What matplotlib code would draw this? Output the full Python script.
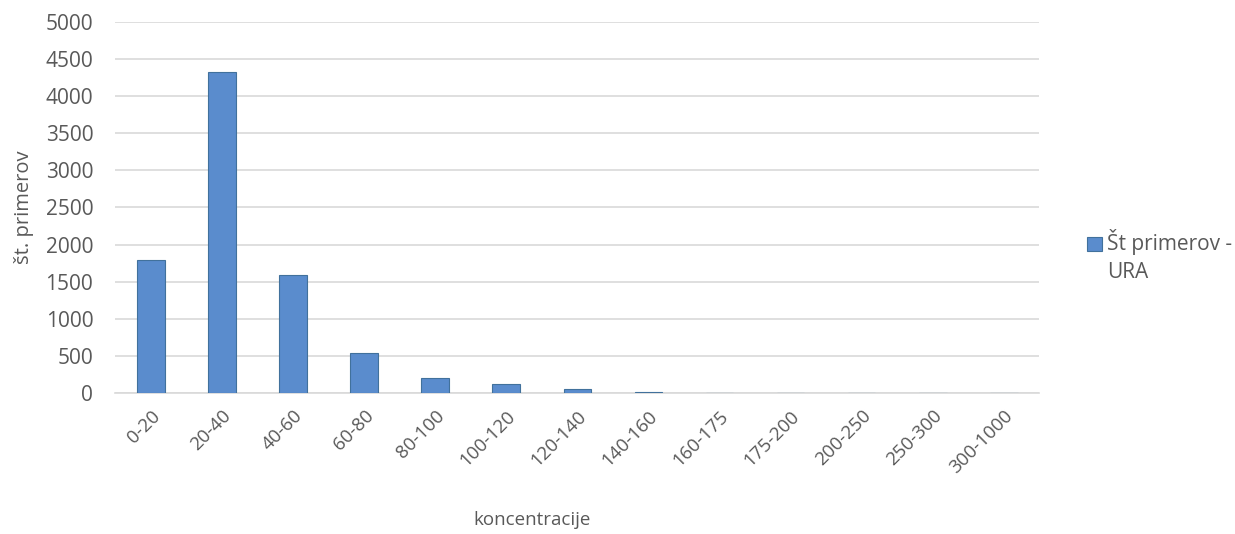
import matplotlib
matplotlib.use('Agg')
import matplotlib.pyplot as plt
from matplotlib.legend_handler import HandlerPatch
from matplotlib.patches import Rectangle
import numpy as np

# ======== Data ========
categories = ['0-20', '20-40', '40-60', '60-80', '80-100', '100-120', '120-140',
              '140-160', '160-175', '175-200', '200-250', '250-300', '300-1000']
counts = [1795, 4320, 1590, 545, 200, 115, 55, 15, 3, 2, 1, 1, 1]
yticks = [0, 500, 1000, 1500, 2000, 2500, 3000, 3500, 4000, 4500, 5000]

# ======== Style ========
plt.rcParams.update({'font.family': ['Open Sans', 'DejaVu Sans'], 'font.size': 12})
txt = '#595959'

fig = plt.figure(figsize=(12.35, 5.34), dpi=100)
ax = fig.add_axes([0.0935, 0.264, 0.748, 0.695])

x = np.arange(len(categories))
bars = ax.bar(x, counts, width=0.39, color='#5a8ccd', edgecolor='#41719c', lw=0.8,
              label='Št primerov -\nURA', zorder=3)

ax.set_ylim(0, 5000)
ax.set_xlim(-0.5, len(categories) - 0.5)
ax.set_yticks(yticks)
ax.set_xticks(x)
ax.set_xticklabels(categories, rotation=45, ha='right', rotation_mode='anchor')
ax.tick_params(axis='both', length=0, colors=txt)
ax.tick_params(axis='y', labelsize=15, pad=16)
ax.tick_params(axis='x', labelsize=13.5, pad=10)
ax.grid(axis='y', color='#d9d9d9', lw=1.2, zorder=0)
for s in ['top', 'right', 'left']:
    ax.spines[s].set_visible(False)
ax.spines['bottom'].set_color('#d9d9d9')
ax.spines['bottom'].set_linewidth(1.2)

ax.set_ylabel('št. primerov', color=txt, fontsize=14.5)
ax.yaxis.set_label_coords(-0.088, 0.5)
ax.set_xlabel('koncentracije', color=txt, fontsize=13.5, va='center')
ax.xaxis.set_label_coords(0.451, -0.342)


# legend square sits on the first text line, like Excel
def top_square(legend, orig_handle, xdescent, ydescent, width, height, fontsize):
    return Rectangle((-xdescent, -ydescent + 0.62 * fontsize), width, height)


handler = HandlerPatch(patch_func=top_square,
                       update_func=lambda h, o: h.update_from(o.patches[0]))
leg = ax.legend(loc='center left', bbox_to_anchor=(1.0314, 0.369), frameon=False,
                labelcolor=txt, fontsize=15, handlelength=0.7, handleheight=0.7,
                handletextpad=0.25, handler_map={type(bars): handler})
for t in leg.get_texts():
    t.set_linespacing(1.4)

fig.savefig('out.png')
